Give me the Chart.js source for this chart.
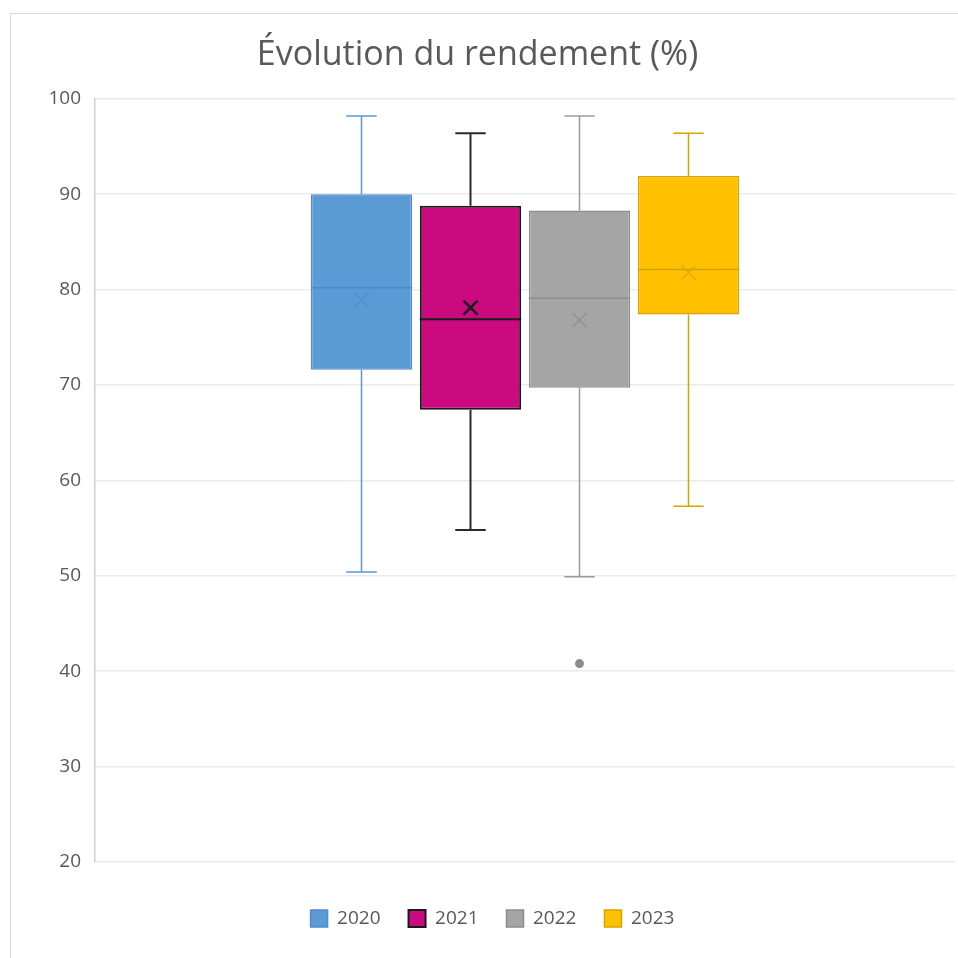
<!DOCTYPE html>
<html>
<head>
<meta charset="utf-8">
<script src="https://cdn.jsdelivr.net/npm/chart.js@4"></script>
<style>
  html, body { margin: 0; padding: 0; background: #fff; }
  #wrap { position: relative; width: 958px; height: 958px; }
</style>
</head>
<body>
<div id="wrap"><canvas id="boxChart"></canvas></div>
<script>
// Series (one box per year)
const years = ['2020', '2021', '2022', '2023'];
const minVals = [50.4, 54.8, 49.9, 57.3];
const q1Vals = [71.6, 67.4, 69.7, 77.4];
const medianVals = [80.2, 76.9, 79.1, 82.1];
const q3Vals = [90.0, 88.8, 88.3, 91.9];
const maxVals = [98.2, 96.4, 98.2, 96.4];
const meanVals = [78.9, 78.1, 76.8, 81.8];
const outlierVals = [[], [], [40.8], []];

// Axis
const yMin = 20;
const yMax = 100;
const yStep = 10;

// Excel-like colours
const fillColors = ['#5B9BD5', '#CC0A80', '#A5A5A5', '#FFC000'];
const borderColors = ['#4F8CC9', '#1A1A1A', '#8C8C8C', '#D6A200'];
const whiskerColors = ['#6096CE', '#2B2B2B', '#9A9A9A', '#D4A300'];
const borderWidths = [1.5, 2, 1.5, 1.5];

const textColor = '#595959';
const fontFamily = "'Open Sans', 'Liberation Sans', sans-serif";

// Whiskers, medians, means and outliers, drawn from the scales
const boxExtras = {
  id: 'boxExtras',
  afterLayout(chart) {
    // Excel puts the legend a bit right of the page centre
    chart.legend.left += 15;
    chart.legend.right += 15;
  },
  beforeDraw(chart) {
    const ctx = chart.ctx;
    ctx.save();
    ctx.strokeStyle = '#D9D9D9';
    ctx.lineWidth = 1;
    ctx.strokeRect(10.5, 13.5, 960, 960);
    ctx.restore();
  },
  afterDatasetsDraw(chart) {
    const ctx = chart.ctx;
    const y = chart.scales.y;
    chart.data.datasets.forEach((ds, i) => {
      const meta = chart.getDatasetMeta(i);
      if (meta.hidden) return;
      const bar = meta.data[0];
      const x = bar.x;
      const w = bar.width;
      const cap = w * 0.15;
      ctx.save();

      // whiskers
      ctx.strokeStyle = whiskerColors[i];
      ctx.lineWidth = borderWidths[i];
      ctx.beginPath();
      ctx.moveTo(x, y.getPixelForValue(q3Vals[i]));
      ctx.lineTo(x, y.getPixelForValue(maxVals[i]));
      ctx.moveTo(x, y.getPixelForValue(q1Vals[i]));
      ctx.lineTo(x, y.getPixelForValue(minVals[i]));
      ctx.moveTo(x - cap, y.getPixelForValue(maxVals[i]));
      ctx.lineTo(x + cap, y.getPixelForValue(maxVals[i]));
      ctx.moveTo(x - cap, y.getPixelForValue(minVals[i]));
      ctx.lineTo(x + cap, y.getPixelForValue(minVals[i]));
      ctx.stroke();

      // median
      ctx.strokeStyle = borderColors[i];
      ctx.beginPath();
      const ym = y.getPixelForValue(medianVals[i]);
      ctx.moveTo(x - w / 2, ym);
      ctx.lineTo(x + w / 2, ym);
      ctx.stroke();

      // mean marker
      const ya = y.getPixelForValue(meanVals[i]);
      const s = 7;
      ctx.globalAlpha = i === 1 ? 1 : 0.65;
      ctx.strokeStyle = i === 1 ? '#1A1A1A' : borderColors[i];
      ctx.lineWidth = i === 1 ? 2.5 : 1.5;
      ctx.beginPath();
      ctx.moveTo(x - s, ya - s);
      ctx.lineTo(x + s, ya + s);
      ctx.moveTo(x + s, ya - s);
      ctx.lineTo(x - s, ya + s);
      ctx.stroke();
      ctx.globalAlpha = 1;

      // outliers
      ctx.fillStyle = borderColors[i];
      outlierVals[i].forEach(v => {
        ctx.beginPath();
        ctx.arc(x, y.getPixelForValue(v), 4.5, 0, Math.PI * 2);
        ctx.fill();
      });
      ctx.restore();
    });
  }
};

const datasets = years.map((yr, i) => ({
  label: yr,
  data: [[q1Vals[i], q3Vals[i]]],
  backgroundColor: fillColors[i],
  borderColor: borderColors[i],
  borderWidth: borderWidths[i],
  borderSkipped: false,
  categoryPercentage: 0.507,
  barPercentage: 0.93
}));

new Chart(document.getElementById('boxChart'), {
  type: 'bar',
  data: { labels: [''], datasets: datasets },
  plugins: [boxExtras],
  options: {
    responsive: true,
    maintainAspectRatio: false,
    animation: false,
    layout: { padding: { top: 35, right: 3, bottom: 20, left: 0 } },
    scales: {
      x: {
        display: true,
        ticks: { display: false },
        grid: { display: false },
        border: { display: false },
        afterFit(scale) { scale.height = 19; }
      },
      y: {
        min: yMin,
        max: yMax,
        afterFit(scale) { scale.width = 95; },
        ticks: {
          stepSize: yStep,
          color: textColor,
          padding: 14,
          font: { family: fontFamily, size: 19 }
        },
        grid: { color: '#EBEBEB', lineWidth: 1.5, drawTicks: false },
        border: { display: true, color: '#D0D0D0', width: 1.5 }
      }
    },
    plugins: {
      title: {
        display: true,
        text: 'Évolution du rendement (%)',
        color: textColor,
        font: { family: fontFamily, size: 34, weight: 'normal' },
        padding: { top: 0, bottom: 23 }
      },
      legend: {
        position: 'bottom',
        labels: {
          color: textColor,
          boxWidth: 17,
          boxHeight: 17,
          padding: 28,
          font: { family: fontFamily, size: 19 }
        }
      },
      tooltip: { enabled: false }
    }
  }
});
</script>
</body>
</html>
